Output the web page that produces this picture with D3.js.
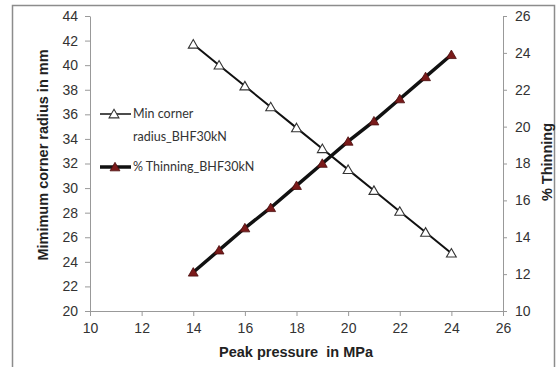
<!DOCTYPE html>
<meta charset="utf-8">
<style>
  body { margin: 0; background: #fff; }
  svg text { font-family: "Liberation Sans", Arial, sans-serif; }
</style>
<svg width="558" height="367"></svg>
<script src="https://cdn.jsdelivr.net/npm/d3@7/dist/d3.min.js"></script>
<script>
/*global d3*/
// peak pressure (MPa)
var pressure = [14, 15, 16, 17, 18, 19, 20, 21, 22, 23, 24];
// min corner radius in mm, left axis
var radius = [41.7, 40.0, 38.3, 36.6, 34.9, 33.2, 31.5, 29.8, 28.1, 26.4, 24.7];
// % thinning, right axis
var thinning = [12.1, 13.3, 14.5, 15.6, 16.8, 18.0, 19.2, 20.3, 21.5, 22.7, 23.9];

var xTicks = [10, 12, 14, 16, 18, 20, 22, 24, 26];
var leftTicks = [20, 22, 24, 26, 28, 30, 32, 34, 36, 38, 40, 42, 44];
var rightTicks = [10, 12, 14, 16, 18, 20, 22, 24, 26];

var svg = d3.select("svg");

// outer frame (bottom edge runs off the picture)
svg.append("path")
  .attr("d", "M12.5,370V5.5H554.5V370")
  .attr("fill", "none")
  .attr("stroke", "#8c8c8c")
  .attr("stroke-width", 1.5);

var x = d3.scaleLinear().domain([10, 26]).range([90, 503]);
var yL = d3.scaleLinear().domain([20, 44]).range([311, 16]);
var yR = d3.scaleLinear().domain([10, 26]).range([311, 16]);

function styleAxis(g) {
  g.select(".domain").attr("stroke", "#999");
  g.selectAll(".tick line").attr("stroke", "#999");
  g.selectAll(".tick text").attr("fill", "#333").attr("font-size", 14);
}

svg.append("g")
  .attr("transform", "translate(0,311)")
  .call(d3.axisBottom(x).tickValues(xTicks).tickSize(5).tickSizeOuter(0).tickPadding(7))
  .call(styleAxis);

svg.append("g")
  .attr("transform", "translate(90,0)")
  .call(d3.axisLeft(yL).tickValues(leftTicks).tickSize(5).tickSizeOuter(0).tickPadding(7))
  .call(styleAxis);

svg.append("g")
  .attr("transform", "translate(503,0)")
  .call(d3.axisRight(yR).tickValues(rightTicks).tickSize(4).tickSizeOuter(0).tickPadding(8))
  .call(styleAxis);

// axis titles
svg.append("text")
  .attr("x", 296).attr("y", 357)
  .attr("text-anchor", "middle")
  .attr("font-weight", "bold").attr("font-size", 14.5).attr("fill", "#222")
  .attr("xml:space", "preserve")
  .text("Peak pressure  in MPa");

svg.append("text")
  .attr("transform", "translate(48,155) rotate(-90)")
  .attr("text-anchor", "middle")
  .attr("font-weight", "bold").attr("font-size", 14.5).attr("fill", "#222")
  .text("Mimimum corner radius in mm");

svg.append("text")
  .attr("transform", "translate(552,162) rotate(-90)")
  .attr("text-anchor", "middle")
  .attr("font-weight", "bold").attr("font-size", 14.5).attr("fill", "#222")
  .text("% Thinning");

var tri = d3.symbol().type(d3.symbolTriangle).size(42);

var lineL = d3.line().x(function(d, i) { return x(pressure[i]); }).y(function(d) { return yL(d); });
var lineR = d3.line().x(function(d, i) { return x(pressure[i]); }).y(function(d) { return yR(d); });

// min corner radius series
svg.append("path")
  .attr("d", lineL(radius))
  .attr("fill", "none").attr("stroke", "#111").attr("stroke-width", 2);

// thinning series
svg.append("path")
  .attr("d", lineR(thinning))
  .attr("fill", "none").attr("stroke", "#111").attr("stroke-width", 3.5);

svg.selectAll(".mr").data(radius).enter().append("path")
  .attr("class", "mr")
  .attr("transform", function(d, i) { return "translate(" + x(pressure[i]) + "," + (yL(d) + 1) + ")"; })
  .attr("d", tri)
  .attr("fill", "#fff").attr("stroke", "#333").attr("stroke-width", 1.1);

svg.selectAll(".mt").data(thinning).enter().append("path")
  .attr("class", "mt")
  .attr("transform", function(d, i) { return "translate(" + x(pressure[i]) + "," + (yR(d) + 1) + ")"; })
  .attr("d", tri)
  .attr("fill", "#7a1a1a").attr("stroke", "#4a0e0e").attr("stroke-width", 0.8);

// legend
var leg = svg.append("g");
leg.append("line").attr("x1", 100).attr("x2", 131).attr("y1", 114).attr("y2", 114)
  .attr("stroke", "#111").attr("stroke-width", 1.5);
leg.append("path").attr("transform", "translate(114,115)").attr("d", tri)
  .attr("fill", "#fff").attr("stroke", "#333").attr("stroke-width", 1.1);
leg.append("text").attr("x", 133).attr("y", 118).attr("font-size", 12.5).attr("fill", "#333")
  .style("font-family", "Lato, 'Open Sans', sans-serif").text("Min corner");
leg.append("text").attr("x", 133).attr("y", 141).attr("font-size", 12.5).attr("fill", "#333")
  .style("font-family", "Lato, 'Open Sans', sans-serif").text("radius_BHF30kN");

leg.append("line").attr("x1", 100).attr("x2", 131).attr("y1", 167).attr("y2", 167)
  .attr("stroke", "#111").attr("stroke-width", 3.5);
leg.append("path").attr("transform", "translate(115,168)").attr("d", tri)
  .attr("fill", "#7a1a1a").attr("stroke", "#4a0e0e").attr("stroke-width", 0.8);
leg.append("text").attr("x", 133).attr("y", 171).attr("font-size", 12.5).attr("fill", "#333")
  .style("font-family", "Lato, 'Open Sans', sans-serif").text("% Thinning_BHF30kN");
</script>
